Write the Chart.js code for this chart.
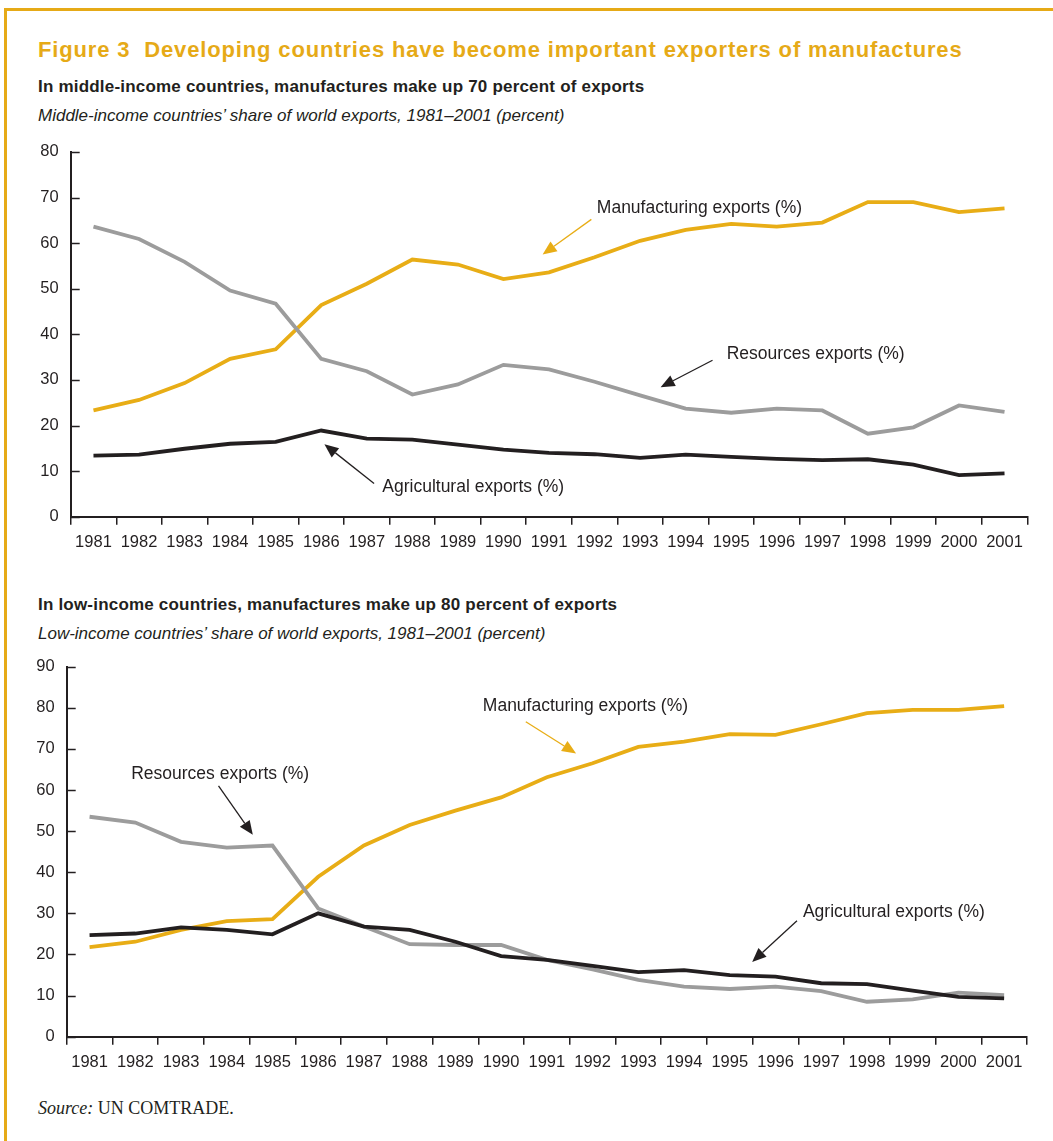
<!DOCTYPE html>
<html>
<head>
<meta charset="utf-8">
<script src="https://cdn.jsdelivr.net/npm/chart.js@4.4.1/dist/chart.umd.min.js"></script>
<style>
html,body{margin:0;padding:0;background:#fff;}
body{width:1053px;height:1141px;position:relative;overflow:hidden;font-family:"Liberation Sans",Arial,Helvetica,sans-serif;color:#231f20;}
.frame{position:absolute;left:4px;top:7.5px;right:-10px;bottom:-10px;border-top:3.5px solid #E6AA17;border-left:3.5px solid #E6AA17;}
.t{position:absolute;left:38px;white-space:nowrap;}
#title{top:37px;font-size:22px;line-height:26px;font-weight:bold;color:#E6AA17;letter-spacing:0.85px;}
.sub{font-size:17px;line-height:20px;font-weight:bold;letter-spacing:0.2px;}
.it{font-size:17px;line-height:20px;font-style:italic;}
#sub1{top:77px;}
#it1{top:106px;}
#sub2{top:595px;}
#it2{top:624px;}
#src{top:1097px;font-family:"Liberation Serif","Times New Roman",serif;font-size:18px;line-height:22px;}
canvas{position:absolute;left:0;}
#c1{top:130px;}
#c2{top:640px;}
</style>
</head>
<body>
<div class="frame"></div>
<div class="t" id="title">Figure 3&nbsp;&nbsp;Developing countries have become important exporters of manufactures</div>
<div class="t sub" id="sub1">In middle-income countries, manufactures make up 70 percent of exports</div>
<div class="t it" id="it1">Middle-income countries’ share of world exports, 1981–2001 (percent)</div>
<div class="t sub" id="sub2">In low-income countries, manufactures make up 80 percent of exports</div>
<div class="t it" id="it2">Low-income countries’ share of world exports, 1981–2001 (percent)</div>
<div class="t" id="src"><i>Source:</i> UN COMTRADE.</div>
<canvas id="c1" width="1053" height="440"></canvas>
<canvas id="c2" width="1053" height="440"></canvas>
<script>
// ---------- Data ----------
const years = ['1981','1982','1983','1984','1985','1986','1987','1988','1989','1990','1991','1992','1993','1994','1995','1996','1997','1998','1999','2000','2001'];

// Middle-income countries
const midManufacturing = [23.3, 25.6, 29.3, 34.6, 36.7, 46.4, 51.1, 56.4, 55.3, 52.1, 53.6, 56.9, 60.5, 62.9, 64.2, 63.6, 64.5, 69.0, 69.0, 66.8, 67.6];
const midResources     = [63.6, 60.9, 55.9, 49.6, 46.7, 34.6, 31.9, 26.8, 29.0, 33.3, 32.3, 29.6, 26.6, 23.7, 22.8, 23.7, 23.3, 18.2, 19.6, 24.4, 23.0];
const midAgricultural  = [13.4, 13.6, 14.9, 16.0, 16.4, 18.9, 17.1, 16.9, 15.8, 14.7, 14.0, 13.7, 12.9, 13.6, 13.1, 12.7, 12.4, 12.6, 11.4, 9.1, 9.5];
const midYTicks = [0, 10, 20, 30, 40, 50, 60, 70, 80];

// Low-income countries
const lowManufacturing = [21.8, 23.1, 26.0, 28.1, 28.6, 38.9, 46.5, 51.5, 55.0, 58.2, 63.1, 66.5, 70.5, 71.8, 73.6, 73.4, 76.0, 78.7, 79.5, 79.5, 80.4];
const lowResources     = [53.5, 52.1, 47.4, 46.0, 46.5, 31.2, 26.8, 22.5, 22.3, 22.3, 18.7, 16.4, 13.8, 12.2, 11.6, 12.2, 11.1, 8.5, 9.1, 10.7, 10.1];
const lowAgricultural  = [24.7, 25.1, 26.6, 26.0, 24.9, 30.0, 26.8, 26.0, 23.1, 19.6, 18.7, 17.2, 15.7, 16.2, 15.0, 14.6, 13.0, 12.8, 11.2, 9.7, 9.3];
const lowYTicks = [0, 10, 20, 30, 40, 50, 60, 70, 80, 90];

const seriesLabels = ['Manufacturing exports (%)', 'Resources exports (%)', 'Agricultural exports (%)'];

// ---------- Styles ----------
const GOLD = '#E8AD16';
const GRAY = '#9C9C9C';
const INK = '#231F20';
const FONT = '"Liberation Sans", Arial, Helvetica, sans-serif';

// annotations: label position (category index, value) and arrow from/to (index, value)
const midNotes = [
  {text: seriesLabels[0], color: GOLD, tx: 11.05, ty: 67.6, ax: 10.93, ay: 65.2, bx: 9.86, by: 57.5},
  {text: seriesLabels[1], color: INK,  tx: 13.9,  ty: 35.6, ax: 13.59, ay: 34.3, bx: 12.45, by: 28.4},
  {text: seriesLabels[2], color: INK,  tx: 6.34,  ty: 6.55, ax: 6.16,  ay: 7.3,  bx: 5.07,  by: 15.9}
];
const lowNotes = [
  {text: seriesLabels[0], color: GOLD, tx: 8.6,   ty: 80.5, ax: 9.54,  ay: 76.6, bx: 10.64, by: 68.9},
  {text: seriesLabels[1], color: INK,  tx: 0.91,  ty: 63.8, ax: 2.82,  ay: 61.0, bx: 3.57,  by: 49.1},
  {text: seriesLabels[2], color: INK,  tx: 15.6,  ty: 30.4, ax: 15.47, ay: 28.2, bx: 14.49, by: 18.2}
];

const annotPlugin = {
  id: 'annot',
  afterDraw(chart, args, opts) {
    const ctx = chart.ctx;
    const xs = chart.scales.x, ys = chart.scales.y;
    const ca = chart.chartArea;
    // inward y-axis ticks
    ctx.save();
    ctx.strokeStyle = INK;
    ctx.lineWidth = 1.5;
    ys.ticks.forEach(t => {
      const y = Math.round(ys.getPixelForValue(t.value)) + 0.5;
      ctx.beginPath();
      ctx.moveTo(ca.left, y);
      ctx.lineTo(ca.left + 9, y);
      ctx.stroke();
    });
    ctx.restore();
    // annotations
    (opts.notes || []).forEach(n => {
      ctx.save();
      ctx.font = '17.5px ' + FONT;
      ctx.fillStyle = INK;
      ctx.textBaseline = 'middle';
      ctx.textAlign = 'left';
      ctx.fillText(n.text, xs.getPixelForValue(n.tx), ys.getPixelForValue(n.ty));
      const x1 = xs.getPixelForValue(n.ax), y1 = ys.getPixelForValue(n.ay);
      const x2 = xs.getPixelForValue(n.bx), y2 = ys.getPixelForValue(n.by);
      const ang = Math.atan2(y2 - y1, x2 - x1);
      const hl = 14, hw = 6;
      const bxp = x2 - hl * Math.cos(ang), byp = y2 - hl * Math.sin(ang);
      ctx.strokeStyle = n.color;
      ctx.lineWidth = 1.3;
      ctx.beginPath();
      ctx.moveTo(x1, y1);
      ctx.lineTo(bxp, byp);
      ctx.stroke();
      ctx.fillStyle = n.color;
      ctx.beginPath();
      ctx.moveTo(x2, y2);
      ctx.lineTo(bxp + hw * Math.sin(ang), byp - hw * Math.cos(ang));
      ctx.lineTo(bxp - hw * Math.sin(ang), byp + hw * Math.cos(ang));
      ctx.closePath();
      ctx.fill();
      ctx.restore();
    });
  }
};

function makeChart(id, manu, reso, agri, yTicks, geo, notes) {
  return new Chart(document.getElementById(id), {
    type: 'line',
    data: {
      labels: years,
      datasets: [
        {label: seriesLabels[2], data: agri, borderColor: INK, order: 1},
        {label: seriesLabels[1], data: reso, borderColor: GRAY, order: 2},
        {label: seriesLabels[0], data: manu, borderColor: GOLD, order: 3}
      ].map(d => Object.assign(d, {borderWidth: 3.8, pointRadius: 0, tension: 0, fill: false, borderJoinStyle: 'miter', borderCapStyle: 'butt'}))
    },
    options: {
      responsive: false,
      animation: false,
      devicePixelRatio: 1,
      layout: {padding: {left: 0, right: geo.right, top: geo.top, bottom: 0}},
      plugins: {legend: {display: false}, tooltip: {enabled: false}, annot: {notes}},
      scales: {
        x: {
          type: 'category',
          offset: true,
          grid: {offset: true, drawOnChartArea: false, drawTicks: true, tickLength: 8, color: INK, lineWidth: 1.5},
          border: {display: true, color: INK, width: 2},
          ticks: {color: INK, font: {family: FONT, size: 16.5}, padding: 8, maxRotation: 0, autoSkip: false},
          afterFit: s => { s.height = geo.xh; }
        },
        y: {
          min: yTicks[0],
          max: yTicks[yTicks.length - 1],
          afterBuildTicks: s => { s.ticks = yTicks.map(v => ({value: v})); },
          grid: {drawOnChartArea: false, drawTicks: false},
          border: {display: true, color: INK, width: 2},
          ticks: {color: INK, font: {family: FONT, size: 16.5}, padding: 12},
          afterFit: s => { s.width = geo.yw; }
        }
      }
    },
    plugins: [annotPlugin]
  });
}

makeChart('c1', midManufacturing, midResources, midAgricultural, midYTicks,
  {right: 25.7, top: 20, xh: 53.3, yw: 70.7}, midNotes);
makeChart('c2', lowManufacturing, lowResources, lowAgricultural, lowYTicks,
  {right: 26, top: 26.7, xh: 43.3, yw: 66.7}, lowNotes);
</script>
</body>
</html>
